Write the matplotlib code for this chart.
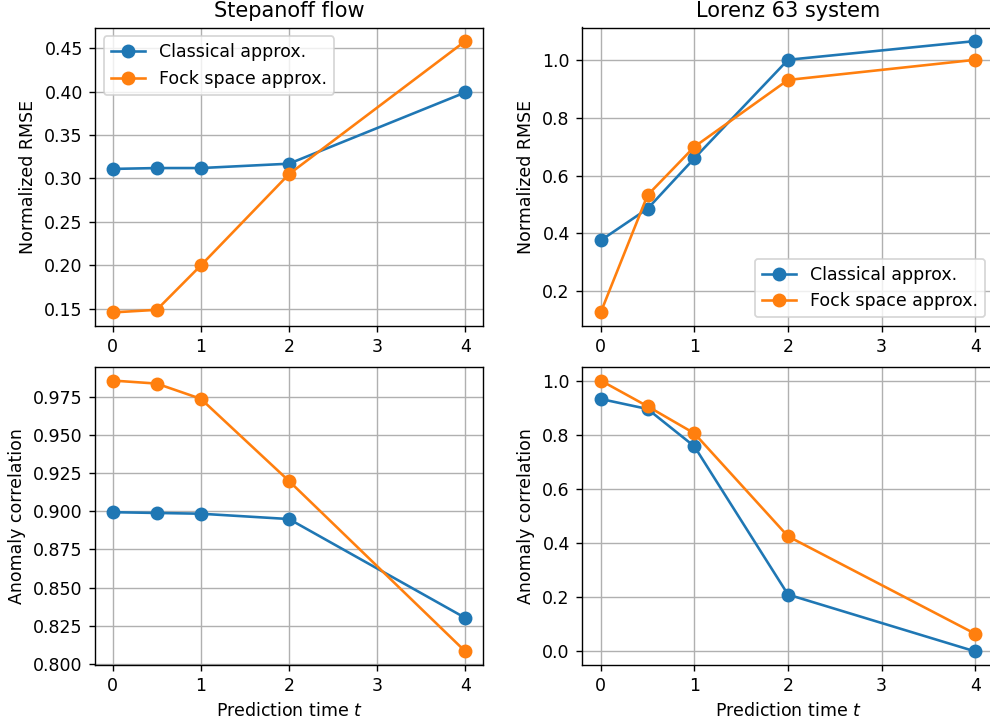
import matplotlib
matplotlib.use("Agg")
import matplotlib.pyplot as plt

# prediction times
t = [0, 0.5, 1, 2, 4]

# Stepanoff flow
step_rmse_classical = [0.311, 0.312, 0.312, 0.317, 0.399]
step_rmse_fock = [0.146, 0.149, 0.200, 0.305, 0.458]
step_ac_classical = [0.8995, 0.899, 0.8985, 0.895, 0.830]
step_ac_fock = [0.986, 0.984, 0.974, 0.920, 0.808]

# Lorenz 63 system
lor_rmse_classical = [0.375, 0.485, 0.660, 1.002, 1.067]
lor_rmse_fock = [0.125, 0.532, 0.700, 0.932, 1.002]
lor_ac_classical = [0.932, 0.895, 0.757, 0.210, 0.0]
lor_ac_fock = [1.0, 0.905, 0.805, 0.425, 0.065]

DPI = 125
fig = plt.figure(figsize=(990 / DPI, 721 / DPI))

# axes placed in pixel fractions (right column runs slightly past the edge)
ax_tl = fig.add_axes([95 / 990, 1 - 326 / 721, 388 / 990, 298.5 / 721])
ax_tr = fig.add_axes([582 / 990, 1 - 326 / 721, 412 / 990, 298.5 / 721])
ax_bl = fig.add_axes([95 / 990, 1 - 665 / 721, 388 / 990, 298 / 721])
ax_br = fig.add_axes([582 / 990, 1 - 665 / 721, 412 / 990, 298 / 721])

def draw(ax, classical, fock, ylabel):
    ax.plot(t, classical, marker="o", markersize=7, label="Classical approx.")
    ax.plot(t, fock, marker="o", markersize=7, label="Fock space approx.")
    ax.set_ylabel(ylabel)
    ax.set_xticks([0, 1, 2, 3, 4])
    ax.grid(True)

draw(ax_tl, step_rmse_classical, step_rmse_fock, "Normalized RMSE")
draw(ax_tr, lor_rmse_classical, lor_rmse_fock, "Normalized RMSE")
draw(ax_bl, step_ac_classical, step_ac_fock, "Anomaly correlation")
draw(ax_br, lor_ac_classical, lor_ac_fock, "Anomaly correlation")

ax_tl.set_title("Stepanoff flow")
ax_tr.set_title("Lorenz 63 system")
ax_tl.legend(loc="upper left")
ax_tr.legend(loc="lower right")
ax_bl.set_xlabel("Prediction time $t$")
ax_br.set_xlabel("Prediction time $t$")

fig.savefig("out.png", dpi=DPI)
